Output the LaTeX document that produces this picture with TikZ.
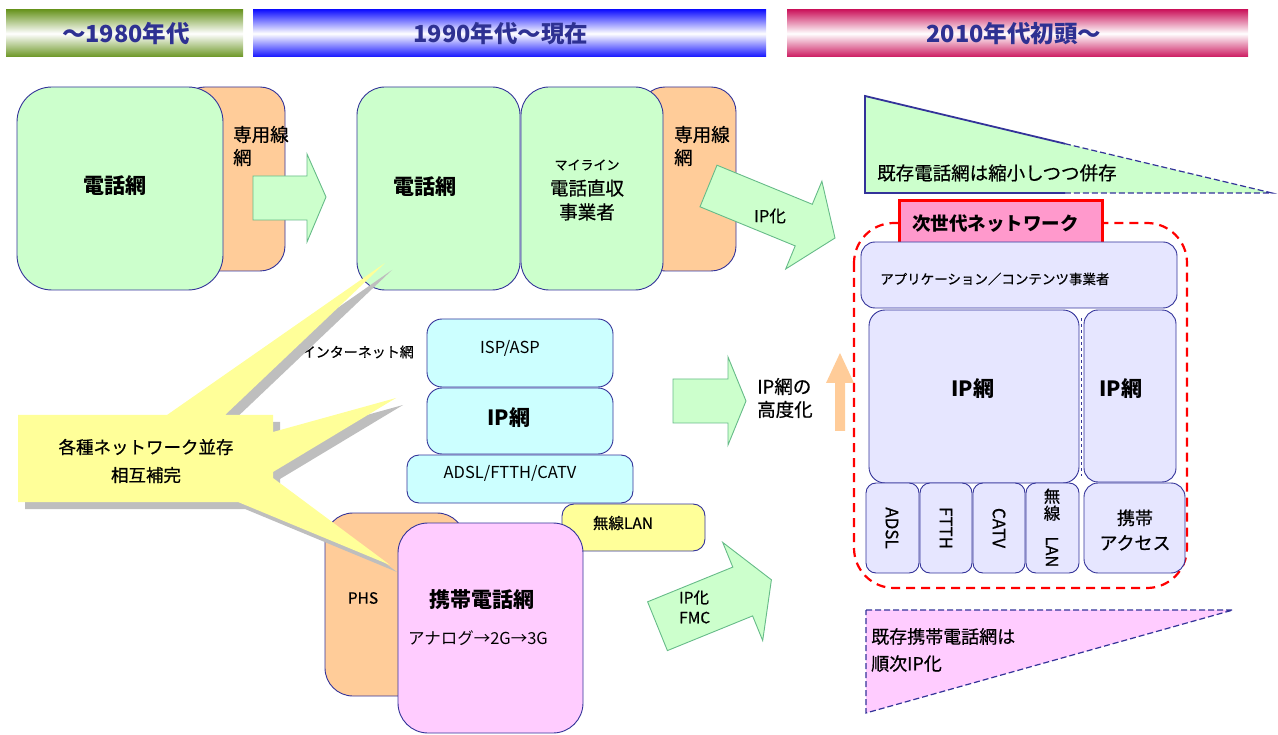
\documentclass[tikz,border=0pt]{standalone}
\usepackage{fontspec}
\setmainfont{Noto Sans CJK JP}
\newfontfamily\semib{Noto Sans CJK JP}[FakeBold=0.6]
\usetikzlibrary{calc}
\definecolor{navy}{RGB}{51,51,153}
\definecolor{hdrtext}{RGB}{46,49,146}
\definecolor{gfill}{RGB}{204,255,204}
\definecolor{ofill}{RGB}{255,204,153}
\definecolor{cfill}{RGB}{204,255,255}
\definecolor{pfill}{RGB}{255,204,255}
\definecolor{lfill}{RGB}{230,230,255}
\definecolor{yfill}{RGB}{255,255,153}
\definecolor{arrowline}{RGB}{102,187,136}
\definecolor{hgreen}{RGB}{107,150,35}
\definecolor{hblue}{RGB}{20,20,255}
\definecolor{hred}{RGB}{204,25,95}
\definecolor{shadowgray}{RGB}{190,190,190}
\definecolor{nbpink}{RGB}{255,153,204}
\definecolor{peach}{RGB}{255,204,153}
\newcommand\calloutshape[1]{\fill[#1] (18,415) -- (167,415) -- (385,263) -- (225,415) -- (273,415) -- (273,432) -- (396,398) -- (273,472) -- (273,478) -- (390,565) -- (238,502) -- (18,502) -- cycle;}
\tikzset{
  box/.style={draw=navy, line width=0.9pt},
  blockarrow/.style={fill=gfill, draw=arrowline, line width=0.9pt},
  hdr/.style={text=hdrtext, font=\fontsize{23.5}{26}\selectfont\bfseries, inner sep=0pt},
  lab/.style={inner sep=0pt, align=center},
  fA/.style={font=\fontsize{21}{25}\selectfont\bfseries},
  fB/.style={font=\fontsize{18.5}{23}\semib},
  fC/.style={font=\fontsize{15.5}{20}\semib},
  fD/.style={font=\fontsize{14}{18}\semib},
}
\begin{document}
\begin{tikzpicture}[x=1pt,y=-1pt]
\useasboundingbox (0,0) rectangle (1278,735);
% headers
\shade[top color=hgreen, bottom color=hgreen, middle color=white] (6,10) rectangle (243,57);
\shade[top color=hblue, bottom color=hblue, middle color=white] (253,10) rectangle (766,57);
\shade[top color=hred, bottom color=hred, middle color=white] (787,10) rectangle (1248,57);
\node[hdr] (h1) at (126,33.5) {～1980年代};
\node[hdr] (h2) at (501,33.5) {1990年代～現在};
\node[hdr] (h3) at (1014,33.5) {2010年代初頭～};
% row 1 left
\draw[box, fill=ofill, rounded corners=25] (180,87) rectangle (285,271);
\draw[box, fill=gfill, rounded corners=35] (17,87) rectangle (223,290);
\node[lab, fA] (tel1) at (115,186) {電話網};
\node[lab, fB, align=left, anchor=west] (sen1) at (233,146) {専用線\\網};
\draw[blockarrow] (253,176) -- (307,176) -- (307,154) -- (326,197) -- (307,242) -- (307,220) -- (253,220) -- cycle;
% row 1 middle
\draw[box, fill=ofill, rounded corners=25] (640,87) rectangle (736,271);
\draw[box, fill=gfill, rounded corners=28] (357,87) rectangle (520,290);
\draw[box, fill=gfill, rounded corners=28] (521,87) rectangle (663,290);
\node[lab, fA] (tel2) at (425,187) {電話網};
\node[lab, font=\fontsize{13}{15}\semib] (myl) at (587,165) {マイライン};
\node[lab, fB] (choku) at (587,188) {電話直収};
\node[lab, fB] (jig) at (587,212) {事業者};
\node[lab, fB, align=left, anchor=west] (sen2) at (674,146) {専用線\\網};
\draw[blockarrow] (717.0,165.2) -- (812.3,204.3) -- (821.9,181.2) -- (835,238) -- (785.7,269.0) -- (795.2,245.9) -- (700.0,206.8) -- cycle;
\node[lab, font=\fontsize{16.5}{20}\semib] (ipka1) at (770,216) {IP化};
% internet stack
\draw[box, fill=cfill, rounded corners=15] (427,319) rectangle (613,387);
\draw[box, fill=cfill, rounded corners=15] (427,388) rectangle (613,454);
\draw[box, fill=cfill, rounded corners=12] (407,455) rectangle (633,503);
\node[lab, font=\fontsize{16.5}{20}\selectfont] (isp) at (510,348) {ISP/ASP};
\node[lab, fA] (ip1) at (509,418) {IP網};
\node[lab, font=\fontsize{16.5}{20}\selectfont] (adsl1) at (510,473) {ADSL/FTTH/CATV};
\node[lab, fD, anchor=east] (inet) at (414,352) {インターネット網};
% mobile
\draw[box, fill=yfill, rounded corners=12] (562,504) rectangle (705,551);
\node[lab, fC] (wlan1) at (623,523) {無線LAN};
\draw[box, fill=ofill, rounded corners=28] (325,513) rectangle (465,696);
\node[lab, fC] (phs) at (363,598) {PHS};
\draw[box, fill=pfill, rounded corners=30] (398,523) rectangle (583,733);
\node[lab, font=\fontsize{21}{25}\selectfont\bfseries] (keitai) at (482,600) {携帯電話網};
\node[lab, font=\fontsize{16.5}{20}\selectfont] (gen) at (478,638) {アナログ→2G→3G};
% middle arrows
\draw[blockarrow] (673,379) -- (728,379) -- (728,357) -- (746,401) -- (728,445) -- (728,423) -- (673,423) -- cycle;
\node[lab, fB, align=left, anchor=west] (kodo) at (757,398) {IP網の\\高度化};
\draw[blockarrow] (647.6,601.8) -- (732.8,567.1) -- (722.7,542.4) -- (771.4,579.8) -- (762.7,640.6) -- (752.6,615.9) -- (667.4,650.6) -- cycle;
\node[lab, fC, align=left, anchor=west] (fmc) at (679,607) {IP化\\FMC};
% callout
\calloutshape{shadowgray, shift={(7,7)}}
\calloutshape{yfill}
\node[lab, font=\fontsize{17.5}{28}\semib] (call) at (146,461) {各種ネットワーク並存\\相互補完};
% right: shrinking telephone triangle
\fill[gfill] (865,96) -- (865,193) -- (1272,193) -- cycle;
\draw[navy, line width=1.8pt] (1065,143.7) -- (865,96) -- (865,193) -- (1065,193);
\draw[navy, line width=1.2pt, dash pattern=on 6pt off 3pt] (1065,143.7) -- (1272,193) -- (1065,193);
\node[lab, fB, anchor=west] (kison) at (877,173) {既存電話網は縮小しつつ併存};
% NGN frame
\draw[red, line width=2.2pt, dash pattern=on 9pt off 6pt, rounded corners=40] (854,223) rectangle (1187,588);
\draw[red, line width=3pt, fill=nbpink] (899,201) rectangle (1102,247);
\node[lab, font=\fontsize{18.5}{22}\selectfont\bfseries, anchor=west] (ngn) at (912,224) {次世代ネットワーク};
\draw[box, fill=lfill, rounded corners=14] (861,242) rectangle (1177,308);
\node[lab, font=\fontsize{13.5}{16}\semib, anchor=west] (app) at (880,279) {アプリケーション／コンテンツ事業者};
\draw[box, fill=lfill, rounded corners=16] (869,310) rectangle (1079,483);
\draw[box, fill=lfill, rounded corners=14] (1084,310) rectangle (1176,482);
\draw[navy, line width=0.6pt, dashed] (1081.5,318) -- (1081.5,476);
\node[lab, fA] (ip2) at (973,389) {IP網};
\node[lab, fA] (ip3) at (1121,389) {IP網};
\draw[box, fill=lfill, rounded corners=10] (866,483) rectangle (919,573);
\draw[box, fill=lfill, rounded corners=10] (920,483) rectangle (972,573);
\draw[box, fill=lfill, rounded corners=10] (973,483) rectangle (1025,573);
\draw[box, fill=lfill, rounded corners=10] (1026,483) rectangle (1079,573);
\draw[box, fill=lfill, rounded corners=14] (1084,483) rectangle (1185,573);
\node[lab, font=\fontsize{17}{20}\semib, rotate=-90] (a1) at (892,528) {ADSL};
\node[lab, font=\fontsize{17}{20}\semib, rotate=-90] (a2) at (946,528) {FTTH};
\node[lab, font=\fontsize{17}{20}\semib, rotate=-90] (a3) at (999,528) {CATV};
\node[lab, font=\fontsize{16.5}{17}\semib] (a4) at (1052,528) {無\\線\\\rotatebox{-90}{LAN}};
\node[lab, font=\fontsize{18}{25}\semib] (a5) at (1135,530) {携帯\\アクセス};
% up arrow
\fill[peach] (835,431) -- (835,383) -- (826,383) -- (840,353) -- (854,383) -- (845,383) -- (845,431) -- cycle;
% mobile triangle
\draw[navy, line width=1.2pt, dash pattern=on 6pt off 3pt, fill=pfill] (866,610) -- (1233,610) -- (866,713) -- cycle;
\node[lab, align=left, anchor=west, font=\fontsize{18}{27}\semib] (kison2) at (871,650) {既存携帯電話網は\\順次IP化};
\end{tikzpicture}
\end{document}
